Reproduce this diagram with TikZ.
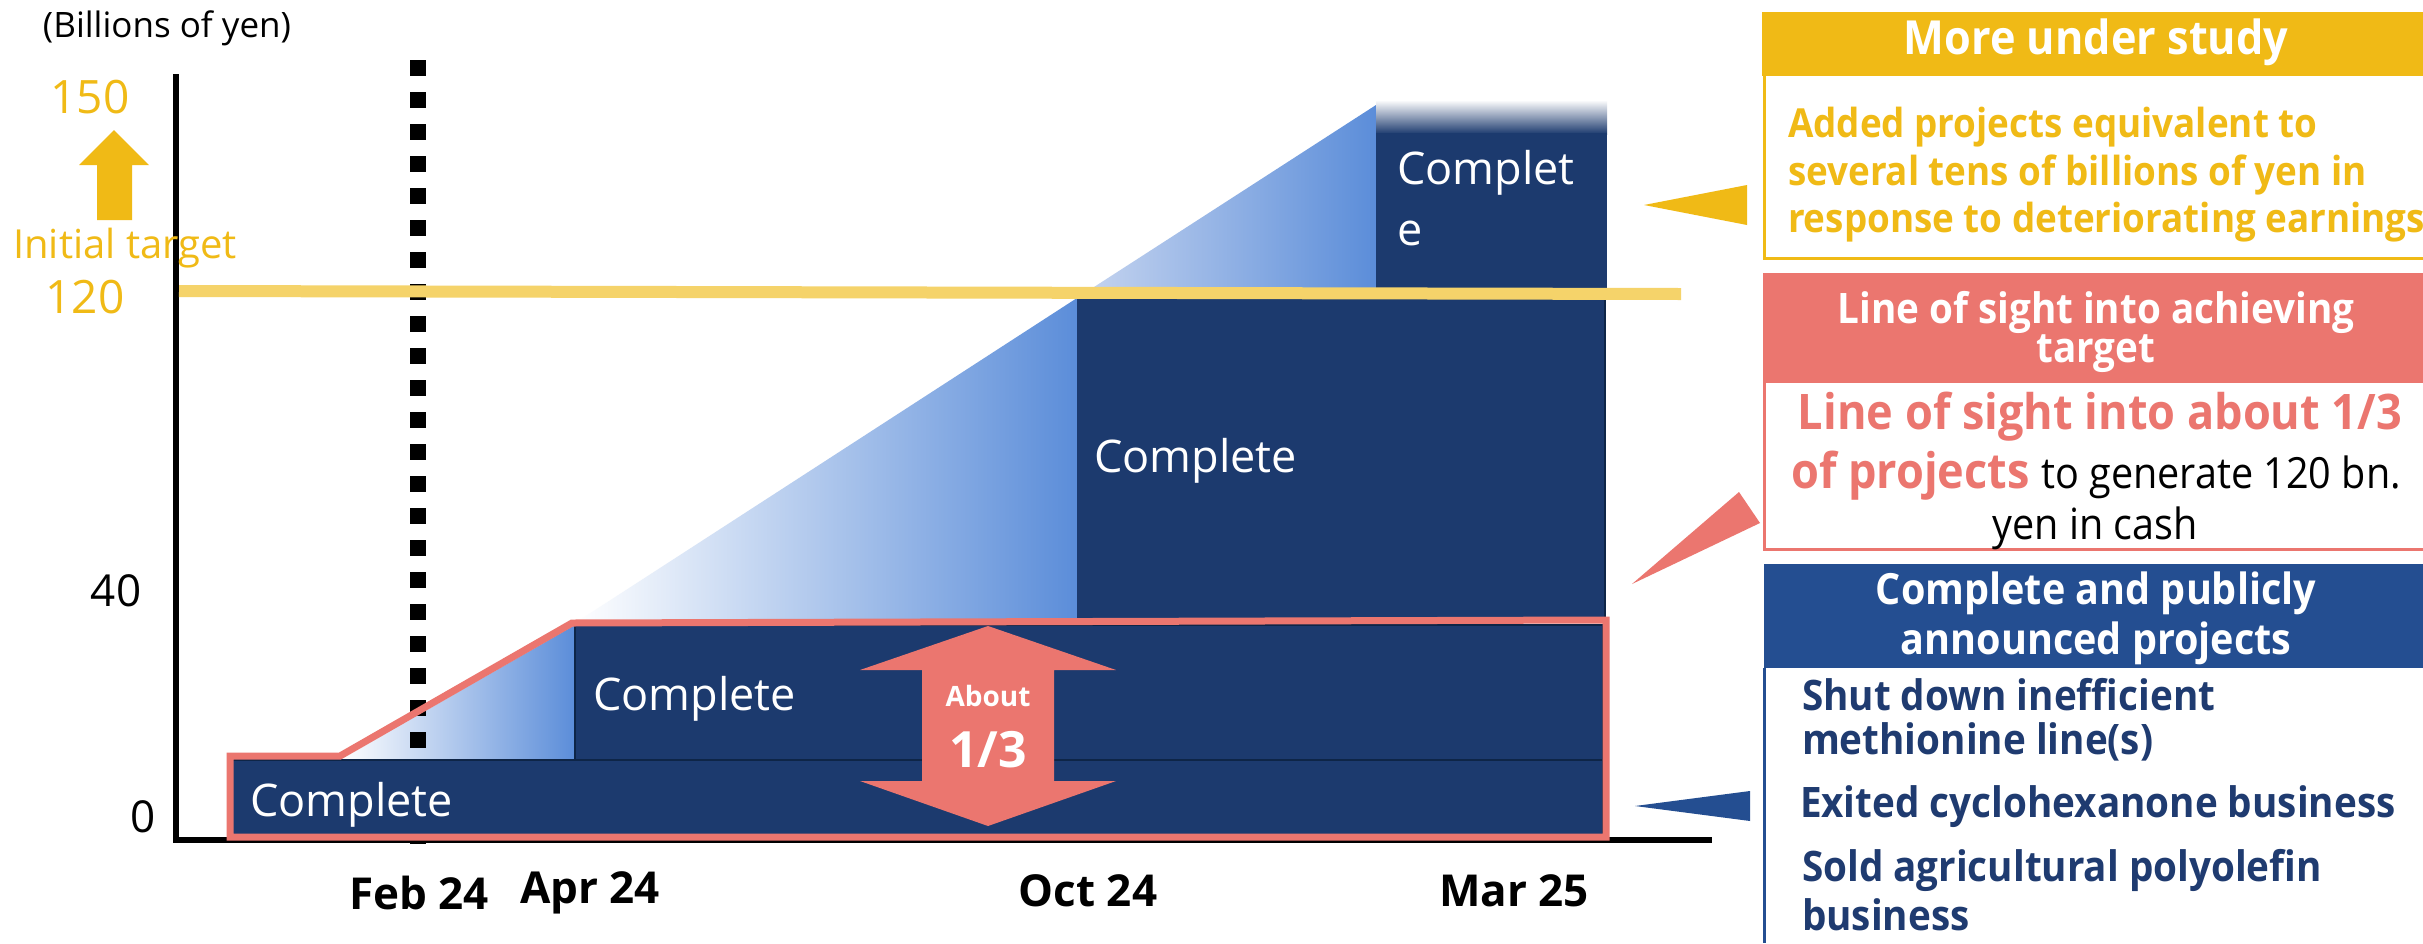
\documentclass[tikz,border=0pt]{standalone}
\usepackage{fontspec}
\setmainfont{Open Sans}
\newfontfamily\pf[FakeStretch=0.92]{Open Sans}
\definecolor{navy}{HTML}{1C3A6E}
\definecolor{navyedge}{HTML}{0E2547}
\definecolor{gblue}{HTML}{5B8DD9}
\definecolor{lblue}{HTML}{C8D6F0}
\definecolor{cred}{HTML}{EB766F}
\definecolor{cyel}{HTML}{F0BA16}
\definecolor{lyel}{HTML}{F5D36A}
\definecolor{hblue}{HTML}{244E91}
\definecolor{tblue}{HTML}{1F3B70}
\newcommand\fsz[1]{\fontsize{#1pt}{#1pt}\selectfont}
\begin{document}
\begin{tikzpicture}[x=1pt,y=-1pt,
  txt/.style={inner sep=0pt, outer sep=0pt},
  bar/.style={fill=navy, draw=navyedge, line width=1.5pt},
  pointer/.style={line width=0pt},
  ]
\useasboundingbox (0,0) rectangle (2423,943);
\fill[white] (0,0) rectangle (2423,943);

% gradient triangles
\shade[left color=white, right color=gblue] (575,623) -- (1077,298) -- (1077,623) -- cycle;
\shade[left color=lblue, right color=gblue] (1077,298) -- (1376,105) -- (1376,298) -- cycle;
\shade[left color=white, right color=gblue] (340,760) -- (575,625) -- (575,760) -- cycle;

% upper bars
\fill[navy] (1077,296) rectangle (1605,622);
\draw[navyedge, line width=1.5pt] (1605,296) -- (1605,622);
\shade[top color=white, bottom color=navy] (1376,100) rectangle (1607,134);
\fill[navy] (1376,133) rectangle (1607,294);

% dotted line
\draw[line width=16pt, dash pattern=on 16pt off 16pt] (418,60) -- (418,845);

% lower bars
\filldraw[bar] (575,625) rectangle (1603,760);
\filldraw[bar] (232,760) rectangle (1603,836);

% axes
\draw[line width=6pt] (176,74) -- (176,840) -- (1712,840);

% red outline
\draw[cred, line width=7pt] (230,837) -- (230,756) -- (340,756) -- (572,623) -- (1606,620) -- (1606,837) -- cycle;

% target line
\draw[lyel, line width=12pt] (179,291) -- (1681,294);

% about arrow
\fill[cred] (988,626) -- (1116,670) -- (1054,670) -- (1054,781) -- (1116,781) -- (988,826)
  -- (860,781) -- (922,781) -- (922,670) -- (860,670) -- cycle;
\node[txt, text=white] (about) at (988,696) {\fsz{28}\bfseries About};
\node[txt, text=white] (third) at (988,750) {\fsz{50}\bfseries 1/3};

% up arrow
\fill[cyel] (97,220) -- (97,165) -- (79,165) -- (114,130) -- (149,165) -- (132,165) -- (132,220) -- cycle;

% left labels
\node[txt] (unit) at (167,28) {\fsz{35}(Billions of yen)};
\node[txt, text=cyel] (v150) at (90,97) {\fsz{46}150};
\node[txt, text=cyel] (init) at (125,248) {\fsz{40}Initial target};
\node[txt, text=cyel] (v120) at (85,297) {\fsz{46}120};
\node[txt] (v40) at (116,591) {\fsz{44}40};
\node[txt] (v0) at (143,817) {\fsz{44}0};

% x labels
\node[txt] (feb) at (419,893) {\fsz{44}\bfseries Feb 24};
\node[txt] (apr) at (590,893) {\fsz{44}\bfseries Apr 24};
\node[txt] (oct) at (1088,891) {\fsz{44}\bfseries Oct 24};
\node[txt] (mar) at (1514,891) {\fsz{44}\bfseries Mar 25};

% bar labels
\node[txt, anchor=west, text=white] (c1) at (250,805) {\fsz{45}Complete};
\node[txt, anchor=west, text=white] (c2) at (593,699) {\fsz{45}Complete};
\node[txt, anchor=west, text=white] (c3) at (1094,461) {\fsz{45}Complete};
\node[txt, anchor=west, text=white] (c4a) at (1397,173) {\fsz{45}Complet};
\node[txt, anchor=west, text=white] (c4b) at (1397,233) {\fsz{45}e};

% right panel: yellow
\fill[cyel] (1762,12) rectangle (2423,76);
\draw[cyel, line width=3pt] (1764,76) -- (1764,258) -- (2423,258);
\node[txt, text=white] (h1) at (2096,42) {\pf\fsz{47}\bfseries More under study};
\node[txt, anchor=west, text=cyel] (y1) at (1788,127) {\pf\fsz{40}\bfseries Added projects equivalent to};
\node[txt, anchor=west, text=cyel] (y2) at (1788,175) {\pf\fsz{40}\bfseries several tens of billions of yen in};
\node[txt, anchor=west, text=cyel] (y3) at (1788,222) {\pf\fsz{40}\bfseries response to deteriorating earnings};
\fill[cyel, pointer] (1644,205) -- (1747,185) -- (1747,225) -- cycle;

% right panel: red
\fill[cred] (1763,273) rectangle (2423,383);
\draw[cred, line width=3pt] (1764,383) -- (1764,549) -- (2423,549);
\node[txt, text=white] (h2a) at (2096,312) {\pf\fsz{42}\bfseries Line of sight into achieving};
\node[txt, text=white] (h2b) at (2096,354) {\pf\fsz{42}\bfseries target};
\node[txt, text=cred] (r1) at (2100,417) {\pf\fsz{49}\bfseries Line of sight into about 1/3};
\node[txt] (r2) at (2096,476) {\pf\fsz{49}{\bfseries\color{cred}of projects} \fsz{43}to generate 120 bn.};
\node[txt] (r3) at (2095,528) {\pf\fsz{43}yen in cash};
\fill[cred, pointer] (1632,584) -- (1739,492) -- (1760,523) -- cycle;

% right panel: blue
\fill[hblue] (1764,564) rectangle (2423,668);
\draw[hblue, line width=3pt] (1764,668) -- (1764,943);
\node[txt, text=white] (h3a) at (2096,593) {\pf\fsz{43}\bfseries Complete and publicly};
\node[txt, text=white] (h3b) at (2096,643) {\pf\fsz{43}\bfseries announced projects};
\node[txt, anchor=west, text=tblue] (b1) at (1802,695) {\pf\fsz{42}\bfseries Shut down inefficient};
\node[txt, anchor=west, text=tblue] (b2) at (1802,742) {\pf\fsz{42}\bfseries methionine line(s)};
\node[txt, anchor=west, text=tblue] (b3) at (1800,807) {\pf\fsz{42}\bfseries Exited cyclohexanone business};
\node[txt, anchor=west, text=tblue] (b4) at (1802,870) {\pf\fsz{42}\bfseries Sold agricultural polyolefin};
\node[txt, anchor=west, text=tblue] (b5) at (1802,915) {\pf\fsz{42}\bfseries business};
\fill[hblue, pointer] (1635,806) -- (1750,791) -- (1750,821) -- cycle;
\end{tikzpicture}
\end{document}
